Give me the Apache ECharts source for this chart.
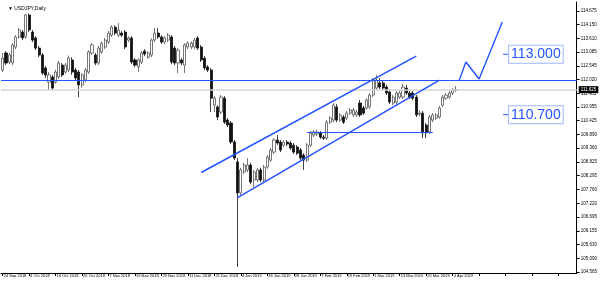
<!DOCTYPE html>
<html><head><meta charset="utf-8">
<script src="https://cdn.jsdelivr.net/npm/echarts@6/dist/echarts.min.js"></script>
<style>html,body{margin:0;padding:0;background:#fff}#c{width:600px;height:281px}</style>
</head><body><div id="c"></div>
<script>
// ---- data (USDJPY, Daily) ----
const dates = [
'24 Sep 2018','25 Sep 2018','26 Sep 2018','27 Sep 2018','28 Sep 2018',
'1 Oct 2018','2 Oct 2018','3 Oct 2018','4 Oct 2018','5 Oct 2018',
'8 Oct 2018','9 Oct 2018','10 Oct 2018','11 Oct 2018','12 Oct 2018',
'15 Oct 2018','16 Oct 2018','17 Oct 2018','18 Oct 2018','19 Oct 2018',
'22 Oct 2018','23 Oct 2018','24 Oct 2018','25 Oct 2018','26 Oct 2018',
'29 Oct 2018','30 Oct 2018','31 Oct 2018','1 Nov 2018','2 Nov 2018',
'5 Nov 2018','6 Nov 2018','7 Nov 2018','8 Nov 2018','9 Nov 2018',
'12 Nov 2018','13 Nov 2018','14 Nov 2018','15 Nov 2018','16 Nov 2018',
'19 Nov 2018','20 Nov 2018','21 Nov 2018','22 Nov 2018','23 Nov 2018',
'26 Nov 2018','27 Nov 2018','28 Nov 2018','29 Nov 2018','30 Nov 2018',
'3 Dec 2018','4 Dec 2018','5 Dec 2018','6 Dec 2018','7 Dec 2018',
'10 Dec 2018','11 Dec 2018','12 Dec 2018','13 Dec 2018','14 Dec 2018',
'17 Dec 2018','18 Dec 2018','19 Dec 2018','20 Dec 2018','21 Dec 2018',
'24 Dec 2018','26 Dec 2018','27 Dec 2018','28 Dec 2018','31 Dec 2018',
'2 Jan 2019','3 Jan 2019','4 Jan 2019',
'7 Jan 2019','8 Jan 2019','9 Jan 2019','10 Jan 2019','11 Jan 2019',
'14 Jan 2019','15 Jan 2019','16 Jan 2019','17 Jan 2019','18 Jan 2019',
'21 Jan 2019','22 Jan 2019','23 Jan 2019','24 Jan 2019','25 Jan 2019',
'28 Jan 2019','29 Jan 2019','30 Jan 2019','31 Jan 2019','1 Feb 2019',
'4 Feb 2019','5 Feb 2019','6 Feb 2019','7 Feb 2019','8 Feb 2019',
'11 Feb 2019','12 Feb 2019','13 Feb 2019','14 Feb 2019','15 Feb 2019',
'18 Feb 2019','19 Feb 2019','20 Feb 2019','21 Feb 2019','22 Feb 2019',
'25 Feb 2019','26 Feb 2019','27 Feb 2019','28 Feb 2019','1 Mar 2019',
'4 Mar 2019','5 Mar 2019','6 Mar 2019','7 Mar 2019','8 Mar 2019',
'11 Mar 2019','12 Mar 2019','13 Mar 2019','14 Mar 2019','15 Mar 2019',
'18 Mar 2019','19 Mar 2019','20 Mar 2019','21 Mar 2019','22 Mar 2019',
'25 Mar 2019','26 Mar 2019','27 Mar 2019','28 Mar 2019','29 Mar 2019',
'1 Apr 2019','2 Apr 2019','3 Apr 2019','4 Apr 2019','5 Apr 2019'];

const opens = [112.39,113.05,112.70,112.66,113.28,113.67,113.86,113.67,114.52,113.86,
113.63,113.24,112.97,112.47,111.92,112.12,111.92,112.12,112.58,112.31,
112.39,112.78,112.39,112.31,111.81,112.00,112.31,113.05,112.97,112.66,
113.09,113.28,113.47,113.74,114.05,113.74,113.82,113.86,113.55,113.63,
112.78,112.51,112.70,113.12,112.89,112.97,113.55,113.82,113.67,113.47,
113.55,113.67,113.24,112.66,112.78,112.58,113.28,113.28,113.28,113.63,
113.28,112.85,112.51,112.39,111.03,110.96,110.76,111.30,110.45,110.34,
109.60,108.83,107.63,108.44,108.52,108.71,108.13,108.13,108.52,108.13,
108.63,108.90,109.21,109.68,109.60,109.48,109.60,109.56,109.48,109.41,
109.29,109.10,108.90,109.48,109.87,109.91,109.95,109.79,109.75,110.37,
110.45,110.96,110.45,110.57,110.53,110.72,110.65,110.65,111.11,110.92,
110.92,110.96,111.42,111.69,111.89,111.89,111.73,111.54,111.11,111.15,
111.34,111.34,111.69,111.50,111.50,111.34,110.68,110.72,110.26,109.99,
110.45,110.53,110.57,111.03,111.30,111.34,111.50,111.61];
const closes = [112.85,112.66,112.97,113.36,113.67,113.94,113.63,114.52,113.94,113.55,
113.24,112.97,112.27,112.20,112.20,111.69,112.31,112.66,112.20,112.58,
112.85,112.31,112.08,111.81,112.20,112.39,113.09,113.36,112.66,113.24,
113.43,113.55,113.82,114.05,113.82,113.94,113.74,113.28,113.63,112.70,
112.58,112.78,113.05,113.01,113.05,113.55,113.82,113.67,113.47,113.63,
113.74,112.70,112.66,113.16,112.66,113.36,113.43,113.43,113.55,113.24,
112.78,112.47,112.39,111.30,111.30,110.57,111.34,110.37,110.26,109.60,
108.98,107.63,108.52,108.71,108.71,108.05,108.44,108.52,108.13,108.63,
109.02,109.29,109.68,109.56,109.29,109.60,109.52,109.37,109.21,109.17,
108.98,108.90,109.48,109.95,109.99,109.99,109.79,109.75,110.37,110.53,
111.03,110.45,110.65,110.37,110.72,110.84,110.84,110.76,110.65,110.72,
111.23,111.42,112.00,112.00,111.73,111.69,111.50,111.15,111.34,111.50,
111.50,111.73,111.50,111.34,111.30,110.65,110.72,109.95,109.95,110.57,
110.65,110.65,110.92,111.34,111.42,111.50,111.61,111.625];
const lows = [112.31,112.58,112.62,112.58,113.20,113.60,113.55,113.60,113.86,113.47,
113.16,112.89,112.20,112.08,111.61,111.60,111.85,112.05,112.12,112.25,
112.31,112.20,112.00,111.34,111.70,111.92,112.24,112.97,112.58,112.58,
113.01,113.20,113.40,113.67,113.74,113.67,113.67,113.20,113.47,112.62,
112.50,112.31,112.62,112.93,112.82,112.89,113.47,113.60,113.40,113.40,
113.47,112.62,112.58,112.27,112.58,112.27,113.20,113.20,113.20,113.16,
112.70,112.39,112.31,110.76,110.76,110.45,110.68,110.30,110.18,109.52,
108.90,104.76,107.55,108.36,108.44,107.97,107.86,108.05,108.05,108.05,
108.56,108.83,109.14,109.48,109.21,109.41,109.44,109.29,109.14,109.10,
108.90,108.52,108.83,109.41,109.79,109.83,109.72,109.68,109.68,110.30,
110.37,110.37,110.37,110.30,110.45,110.65,110.57,110.57,110.57,110.65,
110.84,110.88,111.34,111.61,111.65,111.61,111.42,111.07,111.03,111.07,
111.27,111.27,111.42,111.27,111.23,110.57,110.60,109.75,109.75,109.91,
110.37,110.45,110.50,110.96,111.23,111.27,111.42,111.54];
const highs = [113.05,113.12,113.05,113.43,113.74,114.02,113.94,114.56,114.58,113.94,
113.70,113.32,113.05,112.55,112.31,112.20,112.40,112.75,112.66,112.66,
112.95,112.89,112.47,112.39,112.27,112.47,113.16,113.43,113.05,113.32,
113.50,113.63,113.90,114.12,114.12,114.21,113.90,113.94,113.70,113.70,
112.85,112.85,113.12,113.20,113.12,113.62,114.02,114.02,113.74,113.70,
113.82,113.74,113.32,113.24,112.85,113.43,113.50,113.50,113.63,113.70,
113.36,112.93,112.58,112.47,111.38,111.03,111.42,111.38,110.53,110.41,
109.68,108.98,108.60,108.80,108.98,108.80,108.52,108.60,108.60,108.71,
109.10,109.37,109.75,109.87,109.68,109.68,109.68,109.64,109.56,109.48,
109.37,109.17,109.56,110.03,110.07,110.07,110.03,109.87,110.45,110.60,
111.11,111.07,110.72,110.65,110.80,110.92,110.92,110.84,111.23,111.00,
111.30,111.50,112.08,112.20,112.08,111.97,111.81,111.61,111.42,111.58,
111.58,111.85,111.81,111.58,111.58,111.42,110.84,110.80,110.34,110.65,
110.72,110.72,111.00,111.42,111.50,111.58,111.69,111.77];

const yTicks = [114.675,114.150,113.610,113.085,112.545,112.020,111.485,110.955,110.425,109.890,
109.360,108.825,108.295,107.760,107.220,106.695,106.155,105.630,105.090,104.565];

const lastPrice = 111.625;
const resistance = 111.98;
const upperChannel = [[60,108.42],[125,112.93]];
const lowerChannel = [[71,107.45],[132,112.00]];
const supportSeg = [[92,109.99],[130,109.99]];
const projection = [[138,112.00],[140,112.70],[144,112.04],[151,114.25]];
const targetLabels = ['113.000','110.700'];
const targetPrices = [113.00,110.66];
const targetIndex = 152;

// ---- build ----
const futureSlots = 36;
const cats = dates.concat(new Array(futureSlots).fill(''));
const ohlc = opens.map((o,i)=>[o,closes[i],lows[i],highs[i]]);
const BLUE = '#2254ff';
const seg = (pts, w) => [{coord:pts[0], lineStyle:{color:BLUE,width:w,type:'solid'}},{coord:pts[1]}];

const chart = echarts.init(document.getElementById('c'), null, {renderer:'canvas'});
chart.setOption({
  animation:false,
  backgroundColor:'#ffffff',
  title:{text:'\u25BC USDJPY,Daily', left:3, top:1, textStyle:{fontSize:5, fontWeight:'normal', color:'#000', fontFamily:'Liberation Sans'}},
  grid:{left:1, right:18, top:2, bottom:8},
  xAxis:{
    type:'category', data:cats, boundaryGap:true,
    axisLine:{show:true, lineStyle:{color:'#000', width:1}},
    axisTick:{show:true, alignWithLabel:true, interval:7, length:3, lineStyle:{color:'#000'}},
    axisLabel:{interval:7, fontSize:4, color:'#000', align:'left', margin:1, fontFamily:'Liberation Sans', padding:[0,0,0,1]},
    splitLine:{show:false}
  },
  yAxis:{
    type:'value', position:'right', min:104.528, max:115.024, scale:true,
    axisLine:{show:true, lineStyle:{color:'#000', width:1}},
    axisTick:{show:true, length:3, customValues:yTicks, lineStyle:{color:'#000'}},
    axisLabel:{customValues:yTicks, fontSize:4.5, color:'#000', margin:4, fontFamily:'Liberation Sans',
      formatter:v=>Number(v).toFixed(3)},
    splitLine:{show:false}
  },
  series:[
    {
      type:'candlestick', data:ohlc, barMaxWidth:3, barWidth:2.6,
      itemStyle:{color:'#ffffff', color0:'#111111', borderColor:'#555555', borderColor0:'#111111', borderWidth:0.8},
      markLine:{
        silent:true, symbol:['none','none'], label:{show:false},
        data:[
          {yAxis:lastPrice, lineStyle:{color:'#d4d4d4', width:1.5, type:'solid'},
            label:{show:true, position:'end', formatter:lastPrice.toFixed(3), color:'#fff', backgroundColor:'#000',
              fontSize:4.5, padding:[1,2], distance:2, fontFamily:'Liberation Sans'}},
          {yAxis:resistance, lineStyle:{color:BLUE, width:1.1, type:'solid'}},
          seg(upperChannel,1.5),
          seg(lowerChannel,1.5),
          seg(supportSeg,1.1)
        ]
      },
      markPoint:{
        silent:true,
        data: targetLabels.map((t,k)=>({
          coord:[targetIndex, targetPrices[k]], symbol:'rect', symbolSize:[5,1],
          itemStyle:{color:BLUE},
          label:{show:true, position:'right', distance:1, formatter:t, color:BLUE, fontSize:14,
            fontFamily:'Liberation Sans', borderColor:'#9bb8ff', borderWidth:1, padding:[2,2,1,2], backgroundColor:'#fff'}
        }))
      }
    },
    {
      type:'line', data:projection, symbol:'none', silent:true,
      lineStyle:{color:BLUE, width:1.4}
    }
  ]
});
</script></body></html>
